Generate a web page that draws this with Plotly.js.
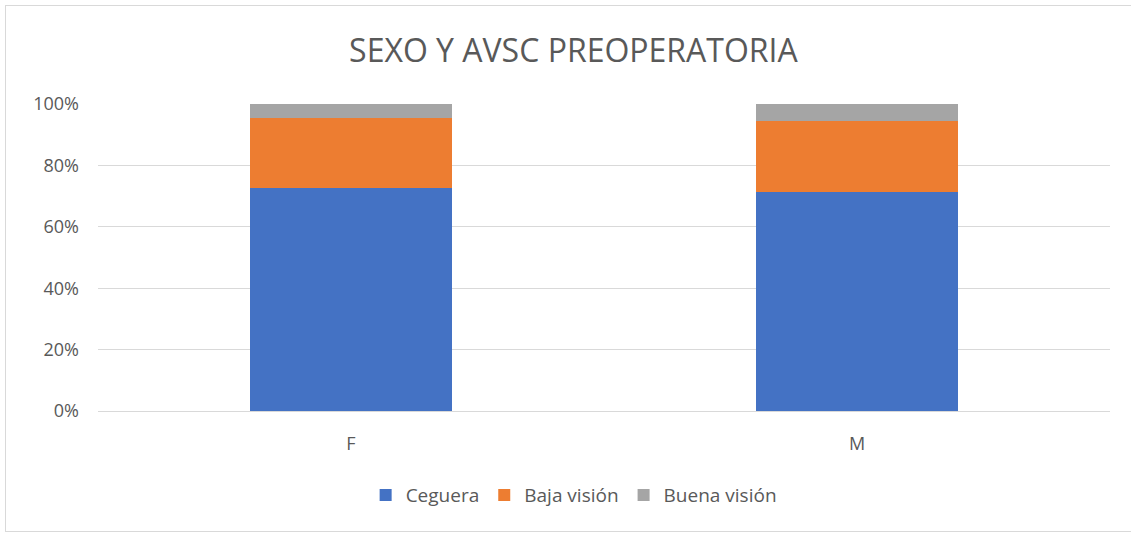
<!DOCTYPE html>
<html>
<head>
<meta charset="utf-8">
<script src="https://cdn.plot.ly/plotly-3.0.1.min.js"></script>
<style>
html,body{margin:0;padding:0;background:#fff;}
#frame{position:absolute;left:5px;top:5px;width:1140px;height:527px;border:1px solid #d9d9d9;box-sizing:border-box;}
#chart{position:absolute;left:0;top:0;width:1131px;height:534px;}
</style>
</head>
<body>
<div id="frame"></div>
<div id="chart"></div>
<script>
const categories = ["F", "M"];
const ceguera = [0.725, 0.712];
const bajaVision = [0.228, 0.233];
const buenaVision = [0.047, 0.055];
const seriesNames = ["Ceguera", "Baja visión", "Buena visión"];
const colors = ["#4472C4", "#ED7D31", "#A5A5A5"];
const tickVals = [0, 0.2, 0.4, 0.6, 0.8, 1.0];
const tickText = ["0%", "20%", "40%", "60%", "80%", "100%"];

const seriesValues = [ceguera, bajaVision, buenaVision];
const traces = seriesValues.map((vals, i) => ({
  type: "bar",
  name: seriesNames[i],
  x: categories,
  y: vals,
  marker: {color: colors[i], line: {width: 0}},
  hoverinfo: "none"
}));

const font = "'Open Sans', 'Noto Sans', sans-serif";
const layout = {
  width: 1131, height: 534,
  paper_bgcolor: "rgba(0,0,0,0)",
  plot_bgcolor: "rgba(0,0,0,0)",
  barmode: "stack",
  bargap: 0.6,
  margin: {l: 98, r: 21, t: 104, b: 123},
  title: {
    text: "SEXO Y AVSC PREOPERATORIA",
    font: {family: font, size: 32, color: "#595959"},
    x: 0.507, xanchor: "center",
    y: 0.905, yanchor: "middle"
  },
  xaxis: {
    type: "category",
    tickfont: {family: font, size: 18, color: "#595959"},
    showgrid: false,
    zeroline: false,
    showline: true,
    linecolor: "#d9d9d9",
    linewidth: 1,
    ticks: "",
    ticklabelstandoff: 16
  },
  yaxis: {
    range: [0, 1],
    tickvals: tickVals,
    ticktext: tickText,
    tickfont: {family: font, size: 18, color: "#595959"},
    showgrid: true,
    gridcolor: "#d9d9d9",
    gridwidth: 1,
    zeroline: false,
    ticks: "",
    ticklabelstandoff: 18
  },
  showlegend: true,
  legend: {
    orientation: "h",
    x: 0.47, xanchor: "center",
    y: -0.274, yanchor: "middle",
    font: {family: font, size: 19, color: "#595959"},
    traceorder: "normal",
    itemwidth: 30
  }
};

Plotly.newPlot("chart", traces, layout, {displayModeBar: false, staticPlot: true});
</script>
</body>
</html>
